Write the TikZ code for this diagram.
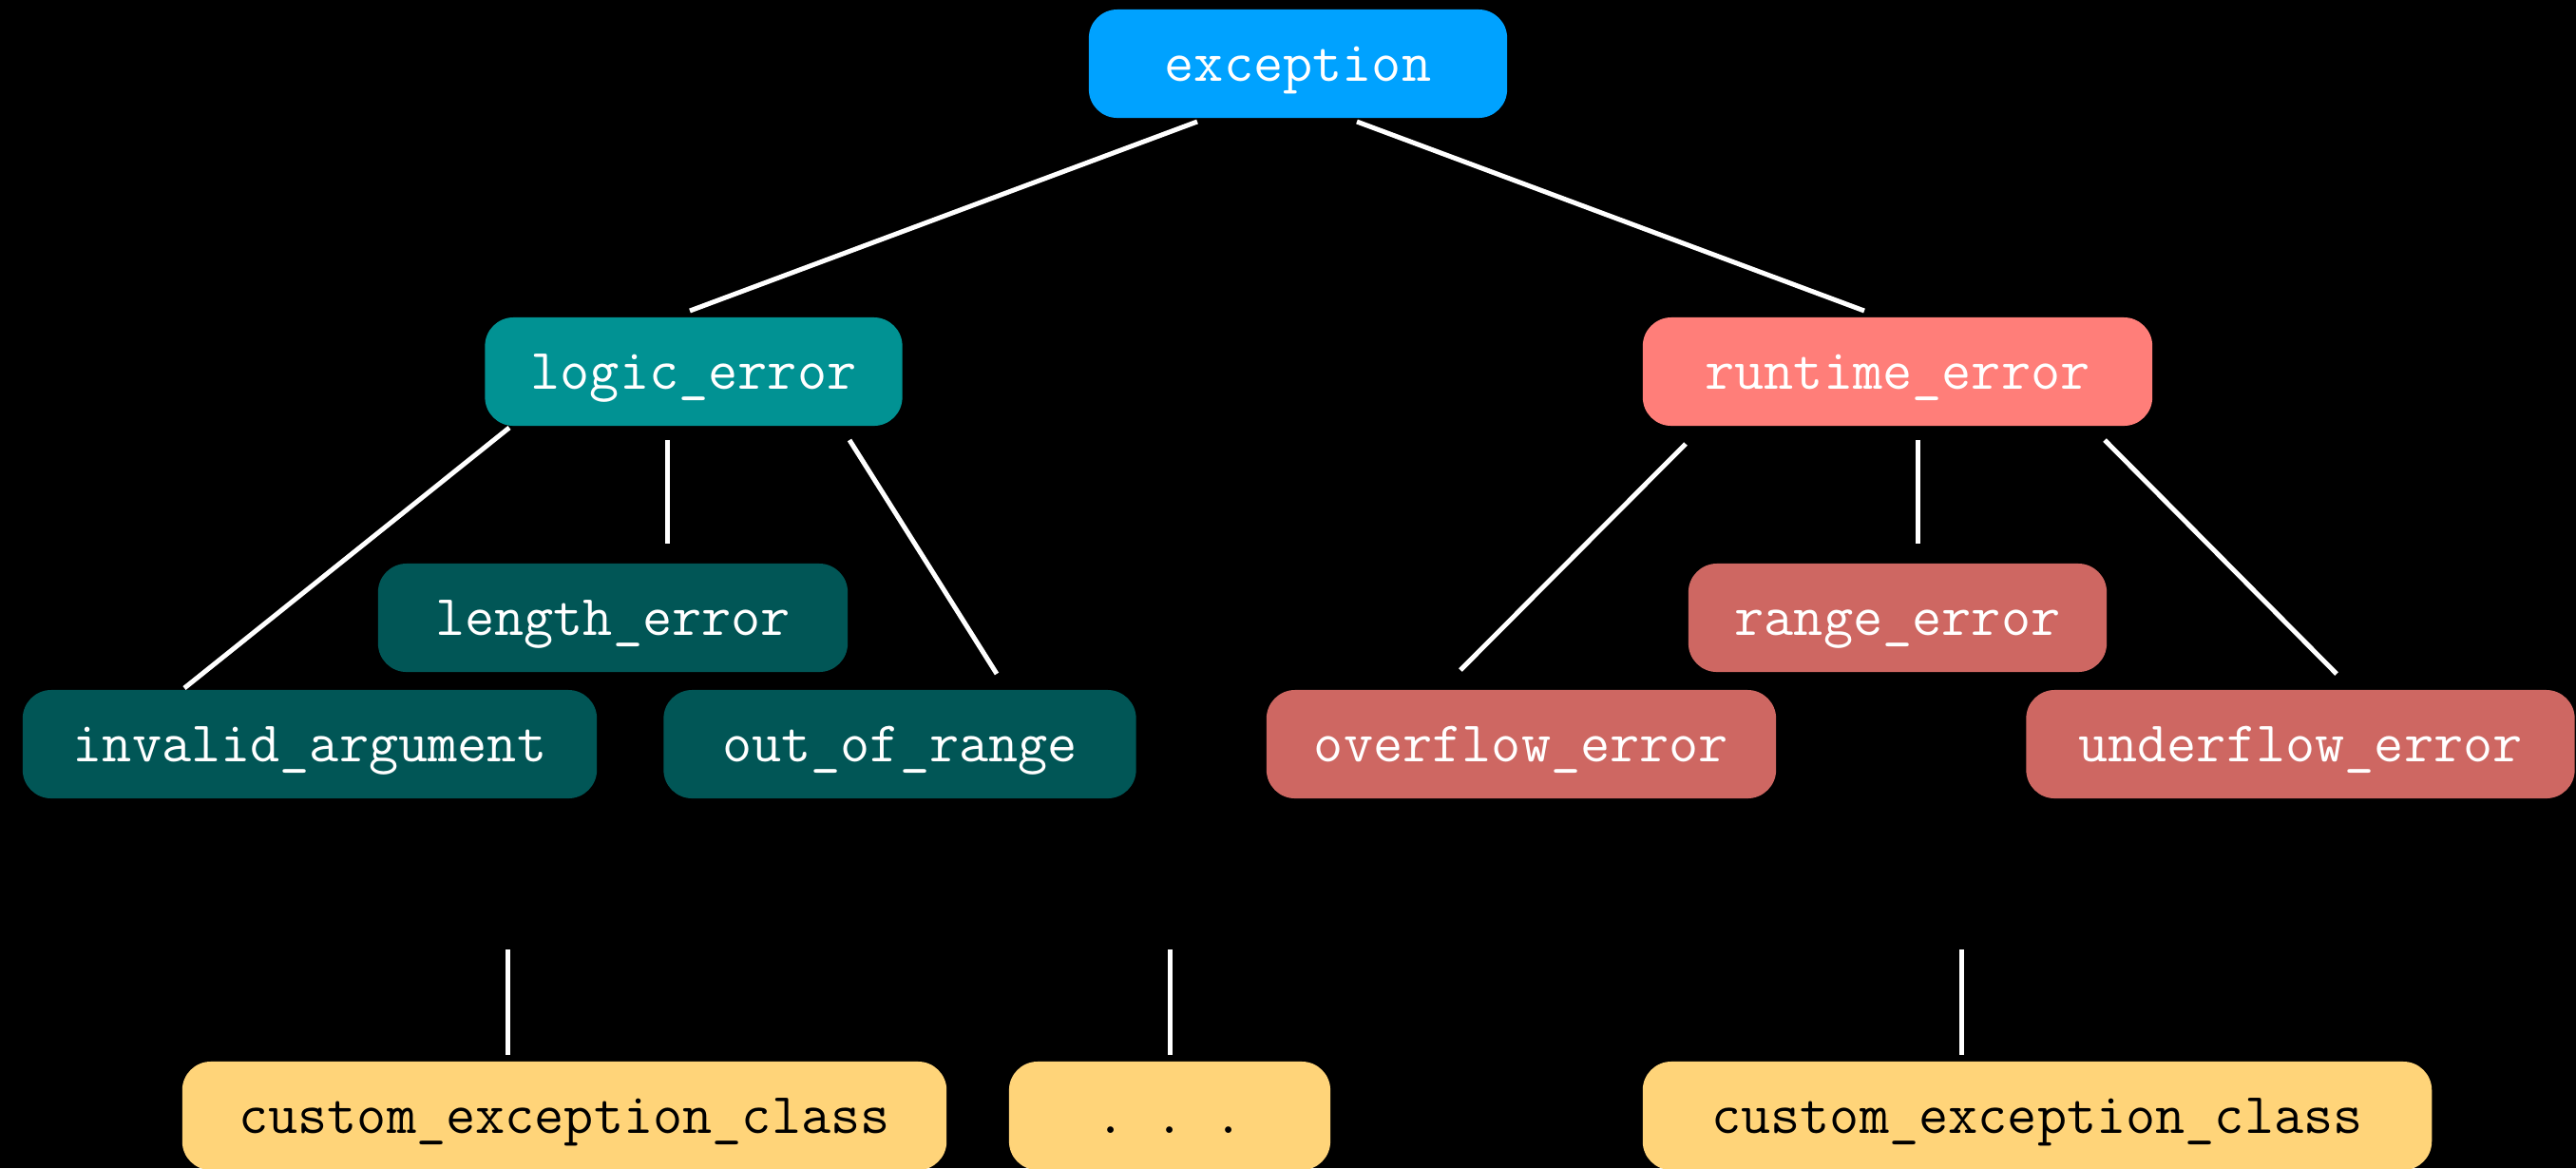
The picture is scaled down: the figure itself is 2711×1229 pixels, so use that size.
\documentclass[tikz,border=0pt]{standalone}
\definecolor{cexc}{HTML}{00A2FF}
\definecolor{clogic}{HTML}{019293}
\definecolor{clogicsub}{HTML}{015656}
\definecolor{cruntime}{HTML}{FF7E79}
\definecolor{cruntimesub}{HTML}{CE6762}
\definecolor{ccustom}{HTML}{FFD479}
\begin{document}
\begin{tikzpicture}[x=0.01cm,y=-0.01cm,
  box/.style={rounded corners=0.3cm, minimum height=1.14cm, inner sep=0pt,
    text height=10.5pt, text depth=0pt,
    font=\ttfamily\fontsize{17.2}{20}\selectfont\frenchspacing, text=white},
  link/.style={draw=white, line width=0.05cm}]
\fill[black] (0,0) rectangle (2711,1229);
\useasboundingbox (0,0) rectangle (2711,1229);
\clip (0,0) rectangle (2711,1229);
% nodes
\node[box, fill=cexc, minimum width=4.40cm] (exc) at (1366,67) {exception};
\node[box, fill=clogic, minimum width=4.39cm] (logic) at (730,391) {logic\_error};
\node[box, fill=cruntime, minimum width=5.36cm] (runtime) at (1997,391) {runtime\_error};
\node[box, fill=clogicsub, minimum width=4.94cm] (length) at (645,650) {length\_error};
\node[box, fill=clogicsub, minimum width=6.04cm] (invalid) at (326,783) {invalid\_argument};
\node[box, fill=clogicsub, minimum width=4.97cm] (oor) at (947,783) {out\_of\_range};
\node[box, fill=cruntimesub, minimum width=4.40cm] (range) at (1997,650) {range\_error};
\node[box, fill=cruntimesub, minimum width=5.36cm] (overflow) at (1601,783) {overflow\_error};
\node[box, fill=cruntimesub, minimum width=5.77cm] (underflow) at (2421,783) {underflow\_error};
\node[box, fill=ccustom, text=black, minimum width=8.04cm] (custA) at (594,1174) {custom\_exception\_class};
\node[box, fill=ccustom, text=black, minimum width=3.38cm] (dots) at (1231,1174) {. . .};
\node[box, fill=ccustom, text=black, minimum width=8.30cm] (custB) at (2144,1174) {custom\_exception\_class};
% connector end points
\coordinate (e1) at (1260,128);
\coordinate (e2) at (1428,128);
\coordinate (l0) at (726,327);
\coordinate (r0) at (1962,327);
\coordinate (l1) at (536,450);
\coordinate (l2) at (702,463);
\coordinate (l3) at (894,463);
\coordinate (ia) at (194,724);
\coordinate (le) at (702,572);
\coordinate (oo) at (1049,709);
\coordinate (r1) at (1774,467);
\coordinate (r2) at (2018,463);
\coordinate (r3) at (2215,463);
\coordinate (ov) at (1537,705);
\coordinate (ra) at (2018,572);
\coordinate (un) at (2459,709);
\coordinate (ca1) at (534,999);
\coordinate (ca2) at (534,1110);
\coordinate (d1) at (1231,999);
\coordinate (d2) at (1231,1110);
\coordinate (cb1) at (2064,999);
\coordinate (cb2) at (2064,1110);
% connectors
\draw[link] (e1) -- (l0);
\draw[link] (e2) -- (r0);
\draw[link] (l1) -- (ia);
\draw[link] (l2) -- (le);
\draw[link] (l3) -- (oo);
\draw[link] (r1) -- (ov);
\draw[link] (r2) -- (ra);
\draw[link] (r3) -- (un);
\draw[link] (ca1) -- (ca2);
\draw[link] (d1) -- (d2);
\draw[link] (cb1) -- (cb2);
\end{tikzpicture}
\end{document}
